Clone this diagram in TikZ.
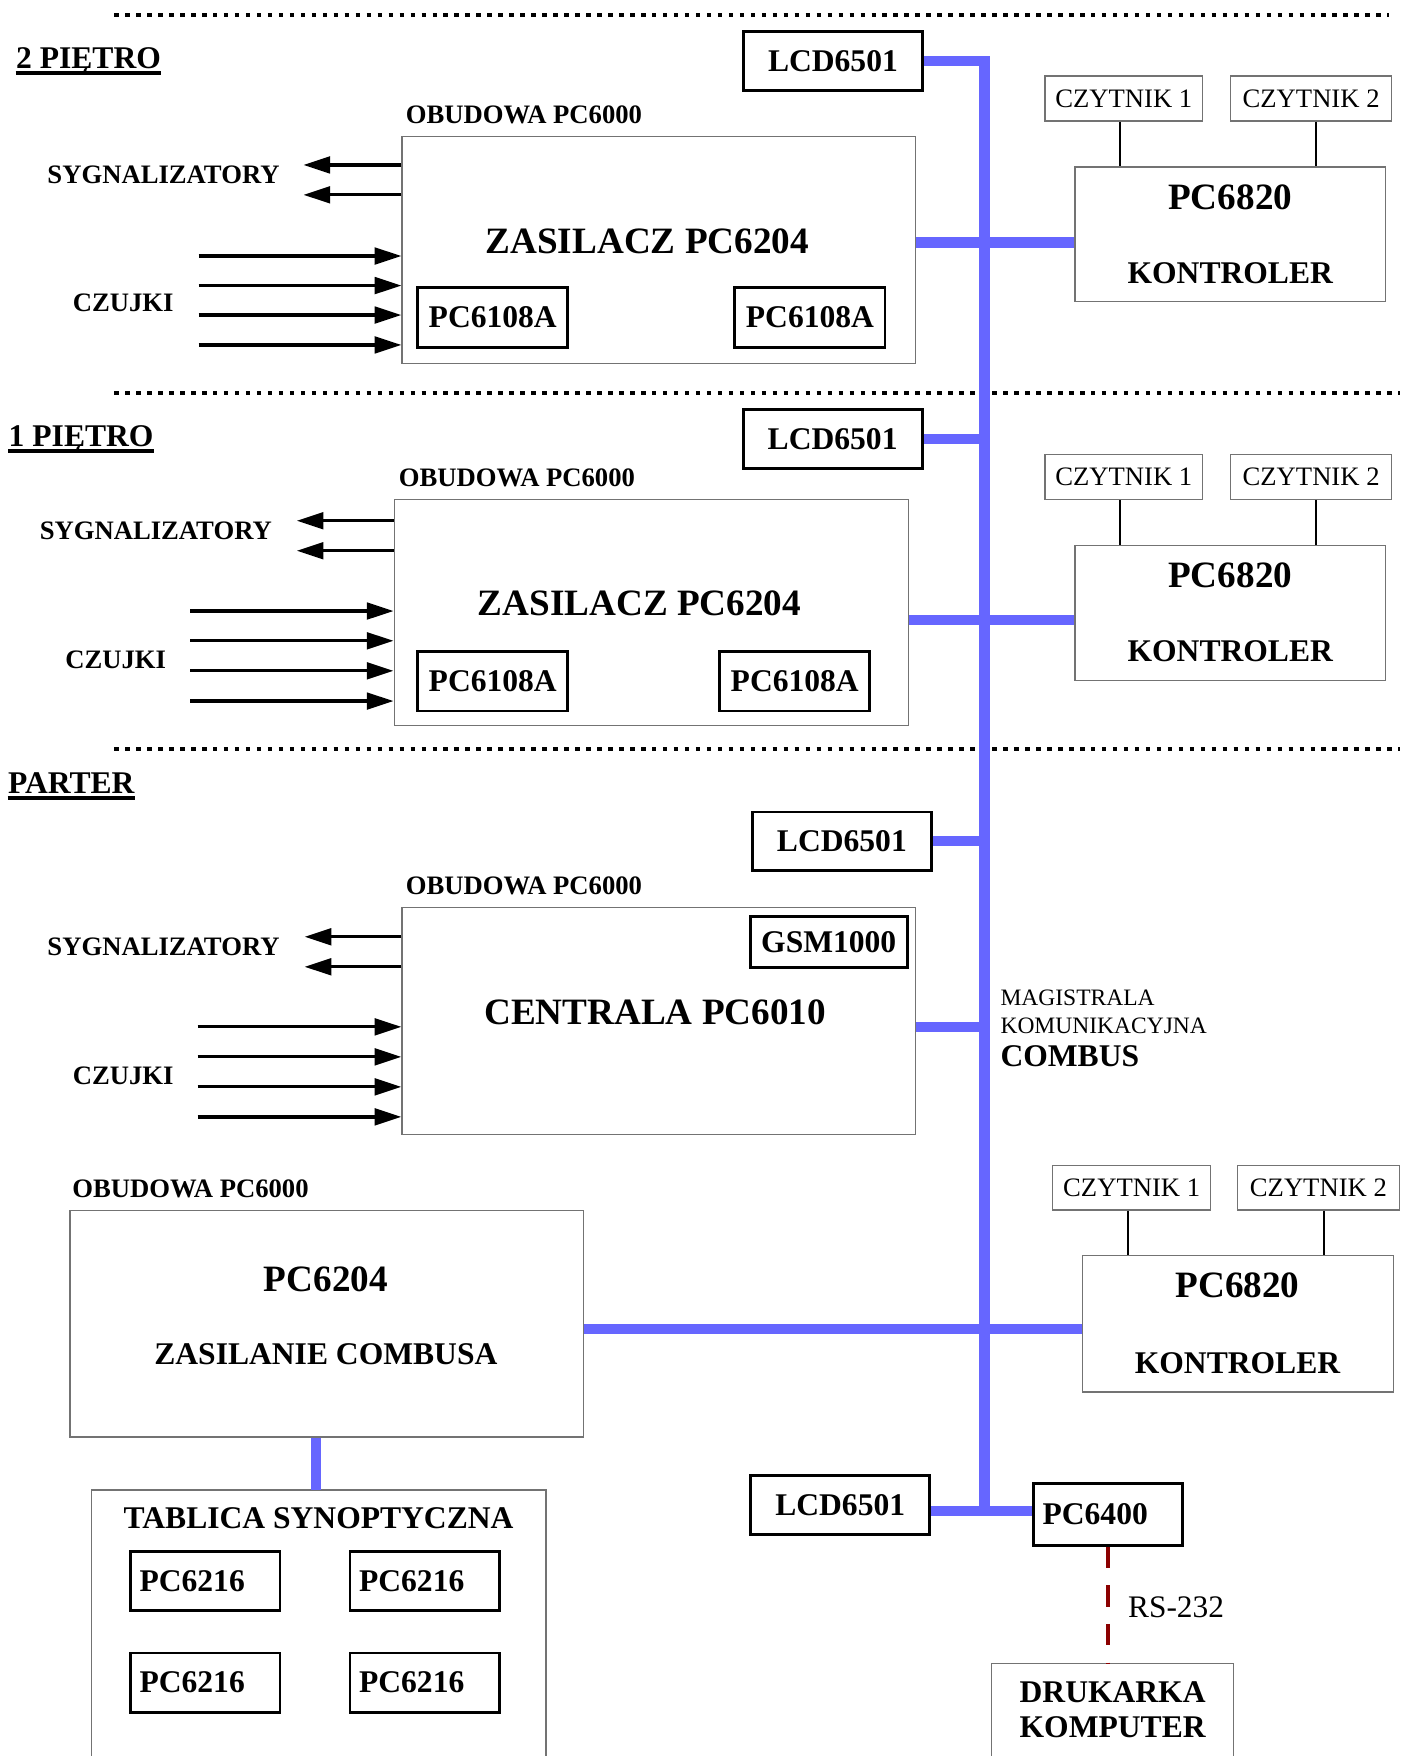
\documentclass[tikz,border=0pt]{standalone}
\usepackage{fontspec}
\setmainfont{Liberation Serif}
\usetikzlibrary{fit,arrows.meta}
\definecolor{busblue}{RGB}{102,102,255}
\definecolor{rsred}{RGB}{139,0,0}
\begin{document}
\begin{tikzpicture}[x=0.5pt,y=-0.5pt,
  tbox/.style={draw, line width=1.3pt, inner sep=0pt},
  gbox/.style={draw=black!55, line width=0.6pt, inner sep=0pt},
  gline/.style={draw=black!55, line width=0.6pt},
  bigf/.style={font=\fontsize{16.6}{20}\selectfont\bfseries},
  midf/.style={font=\fontsize{14.1}{17}\selectfont\bfseries},
  smf/.style={font=\fontsize{11.9}{14}\selectfont\bfseries},
  czf/.style={font=\fontsize{11.9}{14}\selectfont},
  magf/.style={font=\fontsize{10.5}{12.5}\selectfont},
  rsf/.style={font=\fontsize{14}{17}\selectfont},
  txt/.style={inner sep=0pt, anchor=base west},
  ctxt/.style={inner sep=0pt, anchor=base},
  bus/.style={draw=busblue, line width=4.6pt},
  arr/.style={line width=1.45pt, -{Triangle[length=11.9pt,width=7.4pt]}},
  wire/.style={line width=1pt},
  floorsep/.style={line width=2pt, dash pattern=on 2pt off 2.9pt},
  rsline/.style={draw=rsred, line width=1.5pt, dash pattern=on 9.5pt off 7.7pt},
  uline/.style={line width=1.7pt},
  lcd/.style={tbox, midf, minimum width=80pt, minimum height=26.2pt},
  pca/.style={tbox, midf, minimum width=67pt, minimum height=26.5pt},
  czy/.style={gbox, czf, minimum height=20pt},
  leftbox/.style={tbox, midf, align=left, inner xsep=0pt, minimum height=26.5pt}
]
\useasboundingbox (0,0) rectangle (1260,1568);

% floor separators
\draw[floorsep] (102,13.5) -- (1240,13.5);
\draw[floorsep] (102,351) -- (1250,351);
\draw[floorsep] (102,669) -- (1250,669);

% ---------------- 2 PIETRO ----------------
\node[txt, midf] (t2) at (14,61) {2 PIĘTRO};
\draw[uline] ([yshift=-2pt]t2.base west) -- ([yshift=-2pt]t2.base east);
\node[lcd] (lcdA) at (743.75,54.5) {LCD6501};
\node[txt, smf] (ob2) at (362,110) {OBUDOWA PC6000};
\node[gbox, fit={(359,122) (817.5,324.5)}] (zas2) {};
\node[ctxt, bigf] (zt2) at (578,226) {ZASILACZ PC6204};
\node[pca] (pa21) at (440,283.5) {PC6108A};
\node[pca] (pa22) at (723.25,283.5) {PC6108A};
\node[txt, smf] (sy2) at (42,164.3) {SYGNALIZATORY};
\node[txt, smf] (cz2) at (64.6,278.3) {CZUJKI};
\draw[arr] (zas2.west |- 0,147.3) -- (271,147.3);
\draw[arr] (zas2.west |- 0,174) -- (271,174);
\foreach \y in {228.6,255,281.3,308} \draw[arr] (177.4,\y) -- (zas2.west |- 0,\y);
\node[czy, minimum width=70.5pt] (c21) at (1003.5,88) {CZYTNIK 1};
\node[czy, minimum width=71.75pt] (c22) at (1170.75,88) {CZYTNIK 2};
\node[gbox, fit={(960,149) (1237,269.5)}] (k2) {};
\node[ctxt, bigf] (k2a) at (1098.5,187) {PC6820};
\node[ctxt, midf] (k2b) at (1098.5,253) {KONTROLER};
\draw[wire] (c21.south -| 1000,0) -- (k2.north -| 1000,0);
\draw[wire] (c22.south -| 1175,0) -- (k2.north -| 1175,0);

% ---------------- 1 PIETRO ----------------
\node[txt, midf] (t1) at (7.4,398.9) {1 PIĘTRO};
\draw[uline] ([yshift=-2pt]t1.base west) -- ([yshift=-2pt]t1.base east);
\node[lcd] (lcdB) at (743.5,391.75) {LCD6501};
\node[txt, smf] (ob1) at (355.7,434.6) {OBUDOWA PC6000};
\node[gbox, fit={(352,446) (811,648)}] (zas1) {};
\node[ctxt, bigf] (zt1) at (571,550) {ZASILACZ PC6204};
\node[pca] (pa11) at (440,608.35) {PC6108A};
\node[pca] (pa12) at (709.65,608.35) {PC6108A};
\node[txt, smf] (sy1) at (35.1,481.6) {SYGNALIZATORY};
\node[txt, smf] (cz1) at (58,596.8) {CZUJKI};
\draw[arr] (zas1.west |- 0,465) -- (265,465);
\draw[arr] (zas1.west |- 0,491.8) -- (265,491.8);
\foreach \y in {545.6,572.2,599,626} \draw[arr] (169.7,\y) -- (zas1.west |- 0,\y);
\node[czy, minimum width=70.5pt] (c11) at (1003.5,426) {CZYTNIK 1};
\node[czy, minimum width=71.75pt] (c12) at (1170.75,426) {CZYTNIK 2};
\node[gbox, fit={(960,487) (1237,607.5)}] (k1) {};
\node[ctxt, bigf] (k1a) at (1098.5,525) {PC6820};
\node[ctxt, midf] (k1b) at (1098.5,591) {KONTROLER};
\draw[wire] (c11.south -| 1000,0) -- (k1.north -| 1000,0);
\draw[wire] (c12.south -| 1175,0) -- (k1.north -| 1175,0);

% ---------------- PARTER ----------------
\node[txt, midf] (t0) at (6.8,708.5) {PARTER};
\draw[uline] ([yshift=-2pt]t0.base west) -- ([yshift=-2pt]t0.base east);
\node[lcd] (lcdC) at (751.75,751.25) {LCD6501};
\node[txt, smf] (ob0) at (362,799) {OBUDOWA PC6000};
\node[gbox, fit={(359,810.6) (817.3,1013)}] (cen) {};
\node[tbox, midf, minimum width=70pt, minimum height=22.9pt] (gsm) at (740,840.9) {GSM1000};
\node[ctxt, bigf] (ct) at (585,914.5) {CENTRALA PC6010};
\node[txt, smf] (sy0) at (42,852.8) {SYGNALIZATORY};
\node[txt, smf] (cz0) at (64.6,968) {CZUJKI};
\draw[arr] (cen.west |- 0,836.5) -- (272,836.5);
\draw[arr] (cen.west |- 0,863.3) -- (272,863.3);
\foreach \y in {916.9,943.7,970.5,997.3} \draw[arr] (176.5,\y) -- (cen.west |- 0,\y);

\node[txt, magf] (mg1) at (893,897.5) {MAGISTRALA};
\node[txt, magf] (mg2) at (893,922.8) {KOMUNIKACYJNA};
\node[txt, midf] (mg3) at (893,952) {COMBUS};

\node[txt, smf] (obP) at (64.3,1069) {OBUDOWA PC6000};
\node[gbox, fit={(62.5,1080.6) (520.8,1283)}] (psu) {};
\node[ctxt, bigf] (psua) at (291,1153) {PC6204};
\node[ctxt, midf] (psub) at (291,1218.5) {ZASILANIE COMBUSA};

\node[czy, minimum width=70.5pt] (c01) at (1010.5,1060.5) {CZYTNIK 1};
\node[czy, minimum width=72.25pt] (c02) at (1177.25,1060.5) {CZYTNIK 2};
\node[gbox, fit={(966.5,1121) (1244,1243)}] (k0) {};
\node[ctxt, bigf] (k0a) at (1105,1159) {PC6820};
\node[ctxt, midf] (k0b) at (1105,1226.5) {KONTROLER};
\draw[wire] (c01.south -| 1007,0) -- (k0.north -| 1007,0);
\draw[wire] (c02.south -| 1182,0) -- (k0.north -| 1182,0);

\node[inner sep=0pt, fit={(82,1331) (487,1568)}] (tab) {};
\draw[gline] (tab.south west) -- (tab.north west) -- (tab.north east) -- (tab.south east);
\node[ctxt, midf] (tabt) at (284.5,1364.6) {TABLICA SYNOPTYCZNA};
\node[leftbox, text width=58.65pt, minimum width=66.75pt] (p1) at (183.25,1411.5) {PC6216};
\node[leftbox, text width=58.65pt, minimum width=66.75pt] (p2) at (379.3,1411.5) {PC6216};
\node[leftbox, text width=58.65pt, minimum width=66.75pt] (p3) at (183.25,1502.5) {PC6216};
\node[leftbox, text width=58.65pt, minimum width=66.75pt] (p4) at (379.3,1502.5) {PC6216};

\node[lcd] (lcdD) at (750.25,1344) {LCD6501};
\node[leftbox, text width=58.1pt, minimum width=66.45pt, minimum height=27.75pt] (pc64) at (989.05,1352.25) {PC6400};

\node[inner sep=0pt, fit={(886,1486) (1101,1568)}] (druk) {};
\draw[gline] (druk.south west) -- (druk.north west) -- (druk.north east) -- (druk.south east);
\node[ctxt, midf] (dr1) at (993.5,1520) {DRUKARKA};
\node[ctxt, midf] (dr2) at (993.5,1551.7) {KOMPUTER};
\node[txt, rsf] (rst) at (1007,1444.6) {RS-232};
\draw[rsline] (pc64.south -| 989.5,0) -- (druk.north -| 989.5,0);

% ---------------- COMBUS bus ----------------
\coordinate (busTop) at (879,54.5);
\coordinate (busBot) at (879,1349);
\draw[bus] (lcdA.east) -- (busTop) -- (busBot);
\draw[bus] (lcdB.east) -- (lcdB.east -| busTop);
\draw[bus] (lcdC.east) -- (lcdC.east -| busTop);
\draw[bus] (lcdD.east |- busBot) -- (pc64.west |- busBot);
\draw[bus] (zas2.east |- 0,216.5) -- (k2.west |- 0,216.5);
\draw[bus] (zas1.east |- 0,553.6) -- (k1.west |- 0,553.6);
\draw[bus] (cen.east |- 0,917) -- (busTop |- 0,917);
\draw[bus] (psu.east |- 0,1187) -- (k0.west |- 0,1187);
\draw[bus] (psu.south -| 282,0) -- (tab.north -| 282,0);
\end{tikzpicture}
\end{document}
